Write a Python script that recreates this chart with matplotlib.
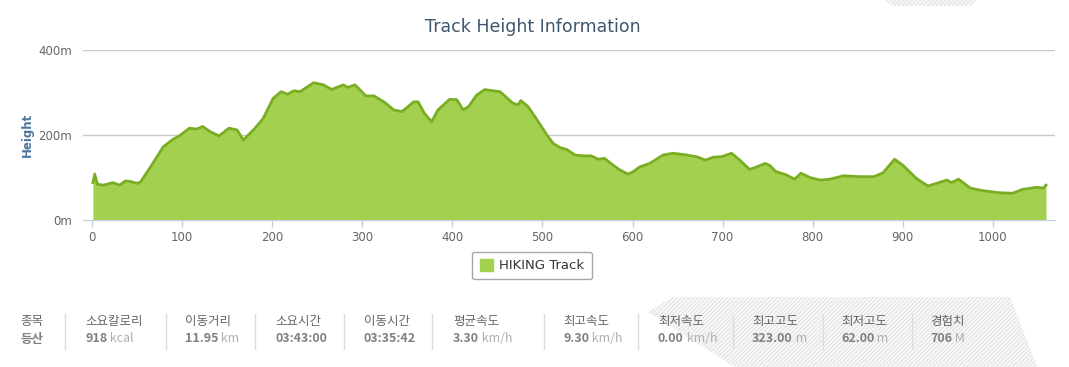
import matplotlib.pyplot as plt
from matplotlib.patches import Patch, Polygon

# 트랙 고도 데이터 (거리 index, 고도 m)
dist = [1, 3, 6, 13, 23, 31, 37, 44, 50, 54, 65, 79, 90, 97, 108, 116, 123, 131,
        141, 152, 161, 168, 181, 190, 201, 210, 217, 224, 231, 246, 257, 266, 279,
        284, 292, 304, 313, 324, 335, 344, 351, 357, 362, 369, 377, 384, 397, 405,
        412, 418, 427, 436, 445, 453, 467, 473, 476, 484, 493, 505, 512, 520, 527,
        536, 545, 554, 562, 569, 576, 585, 595, 601, 608, 619, 634, 645, 660, 671,
        681, 690, 699, 710, 719, 730, 738, 747, 752, 759, 771, 780, 787, 797, 808,
        819, 834, 852, 868, 878, 891, 900, 915, 928, 937, 949, 954, 962, 975, 989,
        1008, 1022, 1033, 1049, 1056, 1059]
height = [88, 108, 84, 82, 88, 82, 92, 90, 86, 90, 125, 172, 190, 198, 216, 214, 220, 208,
          198, 216, 212, 188, 216, 239, 286, 302, 296, 304, 302, 323, 318, 307, 318,
          312, 318, 292, 292, 278, 259, 255, 267, 278, 278, 251, 231, 259, 284, 283,
          259, 267, 294, 307, 304, 302, 275, 271, 281, 267, 239, 200, 180, 170, 166,
          153, 151, 151, 143, 145, 133, 119, 108, 114, 125, 133, 153, 157, 153, 149,
          141, 148, 149, 157, 141, 119, 125, 133, 129, 114, 106, 96, 110, 100, 94,
          96, 104, 102, 102, 111, 143, 129, 98, 80, 86, 94, 88, 96, 75, 69,
          64, 63, 72, 77, 75, 82]

x_ticks = [0, 100, 200, 300, 400, 500, 600, 700, 800, 900, 1000]
y_ticks = [0, 200, 400]
y_labels = ['0m', '200m', '400m']

# 하단 요약 표
stat_names = ['종목', '소요칼로리', '이동거리', '소요시간', '이동시간', '평균속도',
              '최고속도', '최저속도', '최고고도', '최저고도', '경험치']
stat_values = ['등산', '918', '11.95', '03:43:00', '03:35:42', '3.30',
               '9.30', '0.00', '323.00', '62.00', '706']
stat_units = ['', 'kcal', 'km', '', '', 'km/h', 'km/h', 'km/h', 'm', 'm', 'M']
stat_x = [20, 85, 185, 275, 364, 453, 563, 658, 752, 841, 930]
sep_x = [65, 166, 255, 344, 432, 544, 638, 733, 823, 912]

W, H = 1069, 367
fill_c = '#A3D14F'
line_c = '#7AAE22'

fig = plt.figure(figsize=(W / 100, H / 100), dpi=100)
fig.patch.set_facecolor('white')


def px(x, y):
    return (x / W, 1 - y / H)


# 배경 빗금 장식
hatch_pts = [px(673, 297), px(1010, 297), px(1037, 367), px(735, 367), px(648, 312)]
top_pts = [px(885, 0), px(976, 0), px(972, 6), px(893, 6)]
for pts in [hatch_pts, top_pts]:
    fig.patches.append(Polygon(pts, closed=True, transform=fig.transFigure,
                               facecolor='#fbfbfb', edgecolor='#e4e4e4',
                               hatch='////////', linewidth=0, zorder=-1))

ax = fig.add_axes([83 / W, 1 - 220 / H, (1055 - 83) / W, 170 / H])
ax.set_facecolor('none')
ax.fill_between(dist, height, 0, color=fill_c, linewidth=0, zorder=2)
ax.plot(dist, height, color=line_c, linewidth=2.0, zorder=3)

ax.set_xlim(-10, 1069)
ax.set_ylim(0, 400)
for v in [200, 400]:
    ax.axhline(v, color='#C8C8C8', linewidth=1, zorder=1)

ax.set_xticks(x_ticks)
ax.set_xticklabels([str(v) for v in x_ticks])
ax.set_yticks(y_ticks)
ax.set_yticklabels(y_labels)
ax.tick_params(axis='x', colors='#C0D0E0', length=5, width=1, pad=3,
               labelcolor='#666666', labelsize=8.5)
ax.tick_params(axis='y', length=0, pad=8, labelcolor='#666666', labelsize=8.5)
for s in ['top', 'right', 'left']:
    ax.spines[s].set_visible(False)
ax.spines['bottom'].set_color('#C0D0E0')
ax.spines['bottom'].set_zorder(4)

fig.text(27 / W, 1 - 135 / H, 'Height', rotation=90, ha='center', va='center',
         fontsize=8.5, fontweight='bold', color='#4D759E')
fig.text(533 / W, 1 - 27 / H, 'Track Height Information', ha='center', va='center',
         fontsize=12.5, color='#3E576F')

leg = fig.legend(handles=[Patch(facecolor=fill_c, edgecolor=fill_c)],
                 labels=['HIKING Track'], loc='center',
                 bbox_to_anchor=(532 / W, 1 - 265.5 / H), frameon=True, fancybox=True,
                 edgecolor='#909090', fontsize=9.5, handlelength=1.0, handleheight=1.0,
                 handletextpad=0.5, borderpad=0.55)
leg.get_frame().set_linewidth(1.0)
for t in leg.get_texts():
    t.set_color('#333333')

kr = ['Noto Sans CJK KR', 'DejaVu Sans']
for sx in sep_x:
    fig.add_artist(plt.Line2D([sx / W, sx / W], [1 - 314 / H, 1 - 349 / H],
                              color='#dddddd', linewidth=1))

for name, val, unit, sx in zip(stat_names, stat_values, stat_units, stat_x):
    fig.text(sx / W, 1 - 321 / H, name, ha='left', va='center', family=kr,
             fontsize=9, color='#666666')
    t = fig.text(sx / W, 1 - 339 / H, val, ha='left', va='center', family=kr,
                 fontsize=9, fontweight='bold', color='#808080')
    if unit:
        # 숫자 바로 뒤에 단위 붙이기
        ax.annotate(' ' + unit, xy=(1, 0), xycoords=t, ha='left', va='bottom',
                    family=kr, fontsize=9, color='#b0b0b0', annotation_clip=False)

fig.savefig('out.png', dpi=100)
